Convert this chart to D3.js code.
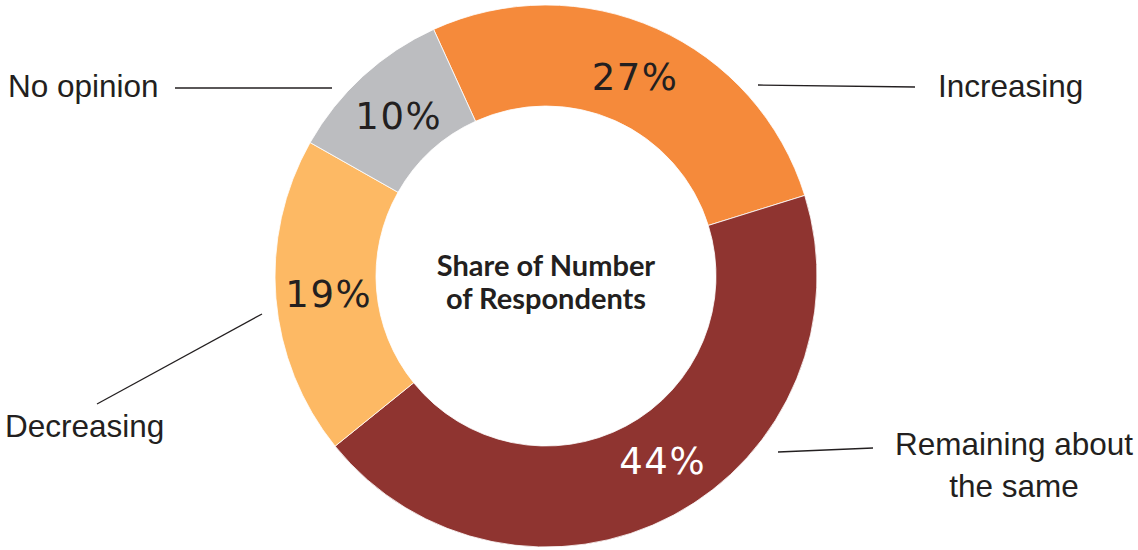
<!DOCTYPE html>
<html><head><meta charset="utf-8">
<script src="https://cdn.jsdelivr.net/npm/d3@7"></script>
<style>html,body{margin:0;padding:0;background:#fff;}svg{display:block;}</style>
</head><body>
<svg id="chart" width="1138" height="550"></svg>
<script>
const categories = ["Increasing", "Remaining about the same", "Decreasing", "No opinion"];
const shares = [27, 44, 19, 10];
const pctLabels = ["27%", "44%", "19%", "10%"];
const colors = ["#F58A3B", "#8F3430", "#FDB964", "#BCBDC0"];
const centerTitle = ["Share of Number", "of Respondents"];

const W = 1138, H = 550;
const cx = 546, cy = 276, rOuter = 271, rInner = 170;
const svg = d3.select("#chart");
const g = svg.append("g").attr("transform", `translate(${cx},${cy})`);

const startA = -24.5 * Math.PI / 180;
const pie = d3.pie().sort(null).value(d => d.v)
  .startAngle(startA).endAngle(startA + 2 * Math.PI);
const data = categories.map((c, i) => ({c, v: shares[i], col: colors[i], lab: pctLabels[i]}));
const arcs = pie(data);
const arc = d3.arc().innerRadius(rInner).outerRadius(rOuter);

g.selectAll("path.slice").data(arcs).enter().append("path")
  .attr("class", "slice")
  .attr("d", arc)
  .attr("fill", d => d.data.col)
  .attr("stroke", "#fff").attr("stroke-width", 0.8);

// percentage labels
const labelArc = d3.arc().innerRadius(218).outerRadius(218);
const nudge = {"Remaining about the same": [14, -8]};
g.selectAll("text.pct").data(arcs).enter().append("text")
  .attr("class", "pct")
  .attr("transform", d => {
    const [x, y] = labelArc.centroid(d);
    const n = nudge[d.data.c] || [0, 0];
    return `translate(${x + n[0]},${y + n[1]})`;
  })
  .attr("text-anchor", "middle")
  .attr("dy", "0.36em")
  .attr("font-family", "'DejaVu Sans', sans-serif")
  .attr("font-size", 37)
  .attr("letter-spacing", 1.5)
  .attr("fill", d => d.data.c.startsWith("Remaining") ? "#ffffff" : "#231f20")
  .text(d => d.data.lab);

// center title (two separate lines)
g.selectAll("text.title").data(centerTitle).enter().append("text")
  .attr("class", "title")
  .attr("text-anchor", "middle")
  .attr("font-family", "Lato, 'Open Sans', sans-serif")
  .attr("font-weight", 700)
  .attr("font-size", 29)
  .attr("fill", "#231f20")
  .attr("x", 0)
  .attr("y", (d, i) => 0 + i * 33)
  .text(d => d);

// outside labels with leader lines (annotation layout, relative to center)
const ann = [
  {c: "Increasing", line: [[212, -191], [369, -189]], text: [[392, -179]], lines: ["Increasing"], anchor: "start"},
  {c: "Remaining about the same", line: [[232, 176], [327, 172]], text: [[468, 179], [468, 221]], lines: ["Remaining about", "the same"], anchor: "middle"},
  {c: "Decreasing", line: [[-284, 38], [-449, 128]], text: [[-541, 161]], lines: ["Decreasing"], anchor: "start"},
  {c: "No opinion", line: [[-214, -188], [-371, -188]], text: [[-538, -179]], lines: ["No opinion"], anchor: "start"}
];
ann.forEach(a => {
  g.append("line")
    .attr("x1", a.line[0][0]).attr("y1", a.line[0][1])
    .attr("x2", a.line[1][0]).attr("y2", a.line[1][1])
    .attr("stroke", "#231f20").attr("stroke-width", 1.3);
  a.lines.forEach((t, i) => {
    g.append("text")
      .attr("x", a.text[i][0]).attr("y", a.text[i][1])
      .attr("text-anchor", a.anchor)
      .attr("font-family", "'Liberation Sans', Arial, sans-serif")
      .attr("font-size", 31.5)
      .attr("fill", "#231f20")
      .text(t);
  });
});
</script>
</body></html>
